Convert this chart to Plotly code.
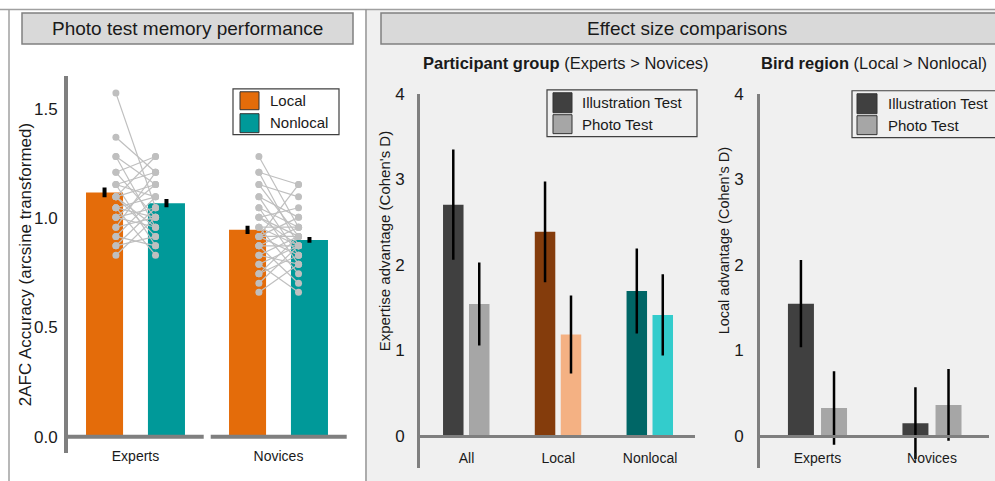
import plotly.graph_objects as go

W, H = 995, 481
# the page is photographed with an ~8px top offset and slight vertical squeeze; compensate here
Y_OFF, Y_SCALE = 8.0, 0.984
def px(x): return x / W
def py(y): return 1 - max(0.0, (y - Y_OFF) / Y_SCALE) / H

FONT = "Arial, 'Liberation Sans', sans-serif"
TXT = "#1a1a1a"
AXC = "#7f7f7f"

# ---------------- data ----------------
groups = ["Experts", "Novices"]
local_mean = [1.117, 0.946]
local_err = [0.022, 0.019]
nonlocal_mean = [1.068, 0.900]
nonlocal_err = [0.019, 0.013]

experts_local = [1.571, 1.369, 1.281, 1.281, 1.209, 1.209, 1.153, 1.153, 1.153, 1.097, 1.097, 1.097, 1.047,
                 1.047, 1.047, 1.003, 1.003, 1.003, 0.958, 0.958, 0.916, 0.916, 0.873, 0.873, 0.830, 1.097]
experts_nonlocal = [1.047, 1.209, 1.153, 0.958, 1.281, 1.003, 1.209, 0.873, 1.097, 1.153, 0.916, 1.281, 1.003,
                    1.097, 0.830, 1.153, 1.047, 0.958, 1.209, 1.003, 1.097, 0.873, 1.047, 0.916, 1.003, 0.958]
novices_local = [1.281, 1.209, 1.209, 1.153, 1.153, 1.097, 1.097, 1.047, 1.047, 1.003, 1.003, 1.003, 0.958, 0.958,
                 0.958, 0.916, 0.916, 0.916, 0.873, 0.873, 0.873, 0.830, 0.830, 0.789, 0.789, 0.745, 0.745, 0.702,
                 0.661, 0.916]
novices_nonlocal = [0.958, 1.153, 0.873, 1.097, 0.916, 0.830, 1.003, 0.958, 0.789, 1.047, 0.873, 0.916, 0.745, 0.958,
                    0.873, 1.003, 0.830, 0.916, 0.702, 0.873, 0.958, 0.789, 0.916, 0.873, 0.661, 0.830, 0.916,
                    0.873, 0.789, 1.153]

eff_cats = ["All", "Local", "Nonlocal"]
eff_illus = [2.705, 2.387, 1.695]
eff_illus_ci = [0.645, 0.59, 0.497]
eff_photo = [1.543, 1.186, 1.415]
eff_photo_ci = [0.486, 0.457, 0.476]

loc_cats = ["Experts", "Novices"]
loc_illus = [1.547, 0.148]
loc_illus_ci = [0.51, 0.42]
loc_photo = [0.327, 0.362]
loc_photo_ci = [0.43, 0.42]

# ---------------- styles ----------------
C_LOCAL = "#E46C0A"
C_NONLOCAL = "#009999"
C_ILLUS = "#404040"
C_PHOTO = "#a6a6a6"
eff_illus_colors = ["#404040", "#843C0C", "#006666"]
eff_photo_colors = ["#a6a6a6", "#F4B183", "#33CCCC"]
DOT = "#bfbfbf"

fig = go.Figure()

# ---- left panel bars
gx = list(range(len(groups)))
fig.add_trace(go.Bar(x=gx, y=local_mean, width=0.259, offset=-0.346, marker=dict(color=C_LOCAL, line=dict(width=0)),
                     error_y=dict(type="data", array=local_err, color="black", thickness=4, width=0),
                     xaxis="x", yaxis="y", showlegend=False))
fig.add_trace(go.Bar(x=gx, y=nonlocal_mean, width=0.259, offset=0.087, marker=dict(color=C_NONLOCAL, line=dict(width=0)),
                     error_y=dict(type="data", array=nonlocal_err, color="black", thickness=4, width=0),
                     xaxis="x", yaxis="y", showlegend=False))

xs, ys = [], []
for gi, (L, N) in enumerate([(experts_local, experts_nonlocal), (novices_local, novices_nonlocal)]):
    for a, b in zip(L, N):
        xs += [gi - 0.137, gi + 0.14, None]
        ys += [a, b, None]
fig.add_trace(go.Scatter(x=xs, y=ys, mode="lines+markers", line=dict(color=DOT, width=1.2),
                         marker=dict(color=DOT, size=7), xaxis="x", yaxis="y", showlegend=False,
                         hoverinfo="skip"))

# ---- middle panel bars
ex = list(range(len(eff_cats)))
fig.add_trace(go.Bar(x=ex, y=eff_illus, width=0.2234, offset=-0.256,
                     marker=dict(color=eff_illus_colors, line=dict(width=0)),
                     error_y=dict(type="data", array=eff_illus_ci, color="black", thickness=2.5, width=0),
                     xaxis="x2", yaxis="y2", showlegend=False))
fig.add_trace(go.Bar(x=ex, y=eff_photo, width=0.2234, offset=0.027,
                     marker=dict(color=eff_photo_colors, line=dict(width=0)),
                     error_y=dict(type="data", array=eff_photo_ci, color="black", thickness=2.5, width=0),
                     xaxis="x2", yaxis="y2", showlegend=False))

# ---- right panel bars
lx = list(range(len(loc_cats)))
fig.add_trace(go.Bar(x=lx, y=loc_illus, width=0.227, offset=-0.258,
                     marker=dict(color=C_ILLUS, line=dict(width=0)),
                     error_y=dict(type="data", array=loc_illus_ci, color="black", thickness=2.5, width=0),
                     xaxis="x3", yaxis="y3", showlegend=False))
fig.add_trace(go.Bar(x=lx, y=loc_photo, width=0.227, offset=0.031,
                     marker=dict(color=C_PHOTO, line=dict(width=0)),
                     error_y=dict(type="data", array=loc_photo_ci, color="black", thickness=2.5, width=0),
                     xaxis="x3", yaxis="y3", showlegend=False))

common_x = dict(showgrid=False, zeroline=False, ticks="", fixedrange=True,
                tickfont=dict(family=FONT, size=14, color=TXT))
common_y = dict(showgrid=False, zeroline=False, ticks="", showline=True, linecolor=AXC,
                tickfont=dict(family=FONT, size=17, color=TXT))

fig.update_layout(
    width=W, height=H, margin=dict(l=0, r=0, t=0, b=0),
    paper_bgcolor="white", plot_bgcolor="rgba(0,0,0,0)",
    barmode="overlay", showlegend=False,
    font=dict(family=FONT, color=TXT),
    xaxis=dict(domain=[px(68), px(350)], range=[-0.472, 1.5], anchor="free", position=py(437),
               tickvals=gx, ticktext=groups, showline=False, ticklabelstandoff=9, **common_x),
    yaxis=dict(domain=[py(453), py(75)], range=[-0.073, 1.650], anchor="x", linewidth=4,
               tickvals=[0, 0.5, 1.0, 1.5], ticktext=["0.0", "0.5", "1.0", "1.5"],
               ticklabelstandoff=3, **common_y),
    xaxis2=dict(domain=[px(420), px(695)], range=[-0.507, 2.49], anchor="free", position=py(436),
                tickvals=ex, ticktext=eff_cats, showline=True, linecolor=AXC, linewidth=3,
                ticklabelstandoff=8, **common_x),
    yaxis2=dict(domain=[py(468), py(93)], range=[-0.373, 4.003], anchor="x2", linewidth=3,
                tickvals=[0, 1, 2, 3, 4], ticklabelstandoff=9, **common_y),
    xaxis3=dict(domain=[px(760), px(989)], range=[-0.502, 1.498], anchor="free", position=py(436),
                tickvals=lx, ticktext=loc_cats, showline=True, linecolor=AXC, linewidth=3,
                ticklabelstandoff=8, **common_x),
    yaxis3=dict(domain=[py(468), py(93)], range=[-0.373, 4.003], anchor="x3", linewidth=3,
                tickvals=[0, 1, 2, 3, 4], ticklabelstandoff=10, **common_y),
)

shapes = []
# right panel background
shapes.append(dict(type="rect", xref="paper", yref="paper", x0=px(367), x1=1.01, y0=-0.01, y1=py(9),
                   fillcolor="#f0f0f0", line=dict(width=0), layer="below"))
# frame lines
shapes.append(dict(type="line", xref="paper", yref="paper", x0=0, x1=1, y0=py(8.6), y1=py(8.6),
                   line=dict(color="#a0a0a0", width=1.5), layer="below"))
shapes.append(dict(type="line", xref="paper", yref="paper", x0=px(9), x1=px(9), y0=py(8.6), y1=-0.01,
                   line=dict(color="#a0a0a0", width=1.5), layer="below"))
shapes.append(dict(type="line", xref="paper", yref="paper", x0=px(366), x1=px(366), y0=py(8.6), y1=-0.01,
                   line=dict(color="#909090", width=1.5), layer="below"))
# header boxes
for x0, x1 in [(22, 353), (381, 1005)]:
    shapes.append(dict(type="rect", xref="paper", yref="paper", x0=px(x0), x1=px(x1), y0=py(43), y1=py(12),
                       fillcolor="#d9d9d9", line=dict(color="#808080", width=1.5), layer="below"))
# left split baseline
for g in gx:
    shapes.append(dict(type="line", xref="x", yref="y", x0=g - 0.474, x1=g + 0.477, y0=0, y1=0,
                       line=dict(color=AXC, width=4), layer="above"))

# manual legends
def legend_box(x0, x1, y0, y1, fill):
    shapes.append(dict(type="rect", xref="paper", yref="paper", x0=px(x0), x1=px(x1), y0=py(y1), y1=py(y0),
                       fillcolor=fill, line=dict(color="#404040", width=1.2)))

def swatch(x0, x1, y0, y1, color):
    shapes.append(dict(type="rect", xref="paper", yref="paper", x0=px(x0), x1=px(x1), y0=py(y1), y1=py(y0),
                       fillcolor=color, line=dict(color="#333333", width=1)))

legend_box(233, 339, 88, 134, "white")
swatch(240, 259, 91, 109, C_LOCAL)
swatch(240, 259, 113, 132, C_NONLOCAL)

legend_box(547, 697, 89, 136, "#f0f0f0")
swatch(553, 572, 92, 112, C_ILLUS)
swatch(553, 572, 114, 133, C_PHOTO)

legend_box(852, 1005, 90, 137, "#f0f0f0")
swatch(857, 877, 93, 113, C_ILLUS)
swatch(857, 877, 115, 134, C_PHOTO)

fig.update_layout(shapes=shapes)

ann = []
def text(x, y, s, size, xanchor="center", angle=0, color=TXT):
    ann.append(dict(xref="paper", yref="paper", x=px(x), y=py(y), text=s, showarrow=False,
                    xanchor=xanchor, yanchor="middle", textangle=angle,
                    font=dict(family=FONT, size=size, color=color)))

text(187.5, 28, "Photo test memory performance", 19)
text(687, 28, "Effect size comparisons", 19)
text(565.5, 62, "<b>Participant group</b> (Experts > Novices)", 16.5)
text(874, 62, "<b>Bird region</b> (Local > Nonlocal)", 16.5)
text(25, 265, "2AFC Accuracy (arcsine transformed)", 17, angle=-90)
text(384, 241, "Expertise advantage (Cohen's D)", 15, angle=-90)
text(724, 241, "Local advantage (Cohen's D)", 14.5, angle=-90)
text(268, 100, "Local", 15, xanchor="left")
text(268, 122, "Nonlocal", 15, xanchor="left")
text(580, 102, "Illustration Test", 15, xanchor="left")
text(580, 124, "Photo Test", 15, xanchor="left")
text(886, 103, "Illustration Test", 15, xanchor="left")
text(886, 125, "Photo Test", 15, xanchor="left")
fig.update_layout(annotations=ann)

POST = (
    "document.documentElement.style.margin='0';document.documentElement.style.padding='0';"
    "document.documentElement.style.overflow='hidden';"
    "document.body.style.margin='0';document.body.style.padding='0';document.body.style.overflow='hidden';"
    "document.body.style.height='481px';"
    "var gd=document.getElementsByClassName('plotly-graph-div')[0];"
    "gd.style.position='fixed';gd.style.top='0px';gd.style.left='0px';"
)
fig.write_html("out.html", config={"displayModeBar": False}, post_script=POST)
